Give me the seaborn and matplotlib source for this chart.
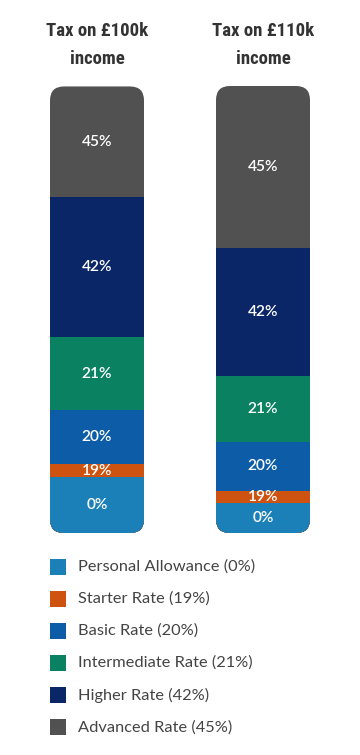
import matplotlib
matplotlib.use("Agg")
import matplotlib.pyplot as plt
from matplotlib.patches import FancyBboxPatch, Rectangle
import seaborn as sns
import pandas as pd
import numpy as np

# ---- data (share of each bar's height, %) ----
incomes = ["Tax on £100k\nincome", "Tax on £110k\nincome"]
bands = ["Personal Allowance", "Starter Rate", "Basic Rate",
         "Intermediate Rate", "Higher Rate", "Advanced Rate"]
rates = [0, 19, 20, 21, 42, 45]
share_100k = [12.5, 2.9, 12.1, 16.3, 31.3, 24.8]
share_110k = [6.7, 2.7, 11.0, 14.8, 28.6, 36.2]
colors = ["#1c80b8", "#cf5310", "#0c5ca8", "#0a8262", "#0b2666", "#515151"]

sns.set_theme(style="white")
plt.rcParams["font.family"] = ["Lato", "DejaVu Sans"]

W, H, DPI = 360, 755, 100
fig = plt.figure(figsize=(W / DPI, H / DPI), dpi=DPI)
ax = fig.add_axes([0, (H - 533) / H, 1, 447 / H])

rows = []
for inc, shares in zip(incomes, [share_100k, share_110k]):
    cum = np.cumsum(shares)
    for b, r, s, c in zip(bands, rates, shares, cum):
        rows.append(dict(income=inc, band=b, rate=r, share=s, cum=c))
df = pd.DataFrame(rows)

bar_w = 94 / 166
# draw from the top band downwards (cumulative heights)
for b, col in reversed(list(zip(bands, colors))):
    sub = df[df.band == b]
    sns.barplot(data=sub, x="income", y="cum", order=incomes, color=col,
                saturation=1, width=bar_w, errorbar=None, ax=ax,
                linewidth=0)

ax.set_ylim(0, 100)
ax.set_xlim(-97 / 166, (360 - 97) / 166)
ax.set_xlabel("")
ax.set_ylabel("")
ax.set_yticks([])
for s in ax.spines.values():
    s.set_visible(False)
ax.xaxis.tick_top()
ax.tick_params(axis="x", length=0, pad=13)
ax.set_xticks(range(len(incomes)))
ax.set_xticklabels(incomes,
                   fontfamily=["Roboto Condensed", "Roboto", "DejaVu Sans"],
                   fontweight="bold", fontsize=13.5, color="#333333",
                   linespacing=1.7, fontstretch="condensed")

# rounded clip for each stacked bar
fig.canvas.draw()
p0 = ax.transData.transform((0, 0))
px_x = ax.transData.transform((1, 0))[0] - p0[0]
px_y = ax.transData.transform((0, 1))[1] - p0[1]
radius_px = 14
groups = {}
for p in ax.patches:
    key = round(p.get_x(), 4)
    groups.setdefault(key, []).append(p)
for key, ps in groups.items():
    top = max(p.get_height() for p in ps)
    w = ps[0].get_width()
    clip = FancyBboxPatch((key, 0), w, top,
                          boxstyle=f"round,pad=0,rounding_size={radius_px / px_x}",
                          mutation_aspect=px_x / px_y,
                          transform=ax.transData, facecolor="none", edgecolor="none")
    for p in ps:
        p.set_clip_path(clip)

# segment labels
for i, inc in enumerate(incomes):
    sub = df[df.income == inc]
    for _, r in sub.iterrows():
        ax.text(i, r.cum - r.share / 2, f"{r.rate}%", ha="center", va="center",
                color="white", fontsize=11.2, fontweight="semibold")

# legend
leg_top = 566.7
leg_step = 32.1
sq = 16
for j, (b, r, col) in enumerate(zip(bands, rates, colors)):
    yc = leg_top + j * leg_step
    fig.add_artist(Rectangle((50 / W, 1 - (yc + sq / 2) / H), sq / W, sq / H,
                             transform=fig.transFigure, facecolor=col,
                             edgecolor="none"))
    fig.text(78 / W, 1 - yc / H, f"{b} ({r}%)", ha="left", va="center",
             fontsize=11.8, color="#444444", fontweight="normal")

fig.savefig("out.png", dpi=DPI)
